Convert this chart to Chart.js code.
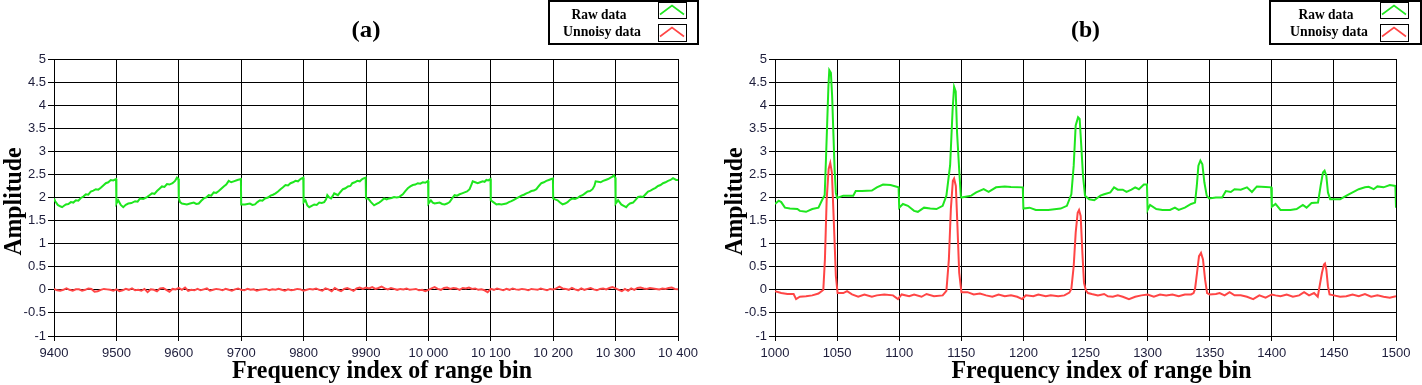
<!DOCTYPE html>
<html>
<head>
<meta charset="utf-8">
<script src="https://cdn.jsdelivr.net/npm/chart.js@4.4.1/dist/chart.umd.min.js"></script>
<style>
  html, body { margin: 0; padding: 0; background: #fff; }
  #wrap { position: relative; width: 1422px; height: 385px; }
  .panel { position: absolute; top: 0; width: 711px; height: 385px; }
  #panelA { left: 0; }
  #panelB { left: 711px; }
</style>
</head>
<body>
<div id="wrap">
  <div class="panel" id="panelA"><canvas id="chartA" width="711" height="385"></canvas></div>
  <div class="panel" id="panelB"><canvas id="chartB" width="711" height="385"></canvas></div>
</div>
<script>
/* Data */

const seriesNames = ["Raw data", "Unnoisy data"];
const panelTitles = ["(a)", "(b)"];
const xAxisTitle = "Frequency index of range bin";
const yAxisTitle = "Amplitude";

// panel (a) raw data: frequency index / amplitude, one line per 100-bin tooth
const rawAX = [
  9400, 9402, 9406, 9410, 9413, 9416, 9419, 9423, 9427, 9431, 9435, 9439, 9443, 9447, 9451, 9455, 9459, 9463, 9467, 9471, 9475, 9479, 9483, 9487, 9491, 9495, 9499.5,
  9500, 9503, 9507, 9511, 9515, 9519, 9524, 9530, 9534, 9538, 9543, 9549, 9553, 9557, 9561, 9565, 9569, 9573, 9577, 9581, 9585, 9590, 9594, 9597, 9599.5,
  9600, 9602, 9605, 9609, 9613, 9618, 9624, 9628, 9632, 9636, 9640, 9644, 9648, 9652, 9656, 9660, 9664, 9668, 9672, 9676, 9680, 9684, 9688, 9694, 9699.5,
  9700, 9706, 9710, 9714, 9718, 9722, 9726, 9730, 9734, 9738, 9743, 9747, 9751, 9755, 9759, 9763, 9767, 9771, 9775, 9779, 9783, 9787, 9791, 9795, 9799.5,
  9800, 9803, 9806, 9809, 9813, 9817, 9821, 9825, 9829, 9833, 9836, 9838, 9841, 9844, 9847, 9849, 9852, 9855, 9859, 9863, 9867, 9871, 9875, 9878, 9882, 9886, 9890, 9894, 9897, 9899.5,
  9900, 9904, 9908, 9913, 9917, 9921, 9925, 9929, 9933, 9937, 9941, 9945, 9949, 9953, 9956, 9959, 9963, 9967, 9971, 9975, 9979, 9983, 9987, 9991, 9995, 9999.5,
  10000, 10004, 10007, 10010, 10014, 10018, 10022, 10026, 10030, 10034, 10038, 10042, 10046, 10050, 10054, 10058, 10062, 10066, 10069, 10071, 10075, 10079, 10083, 10087, 10090, 10093, 10096, 10099.5,
  10100, 10104, 10109, 10113, 10117, 10121, 10125, 10129, 10133, 10137, 10141, 10145, 10149, 10153, 10157, 10161, 10165, 10169, 10173, 10177, 10181, 10185, 10189, 10193, 10197, 10199.5,
  10200, 10203, 10207, 10211, 10215, 10219, 10223, 10227, 10231, 10235, 10239, 10243, 10247, 10251, 10255, 10259, 10263, 10266, 10268, 10272, 10276, 10280, 10284, 10288, 10292, 10295, 10297, 10299.5,
  10300, 10304, 10309, 10313, 10317, 10320, 10323, 10328, 10332, 10336, 10340, 10344, 10348, 10352, 10356, 10360, 10364, 10368, 10372, 10376, 10380, 10384, 10388, 10392, 10397, 10400
];
const rawAY = [
  1.98, 1.92, 1.84, 1.81, 1.79, 1.82, 1.85, 1.86, 1.90, 1.89, 1.94, 1.93, 1.99, 2.02, 2.07, 2.06, 2.13, 2.15, 2.18, 2.17, 2.21, 2.26, 2.31, 2.33, 2.38, 2.37, 2.40,
  1.87, 1.94, 1.84, 1.79, 1.84, 1.87, 1.88, 1.92, 1.91, 1.98, 1.97, 2.01, 2.05, 2.09, 2.08, 2.14, 2.19, 2.24, 2.23, 2.29, 2.28, 2.31, 2.36, 2.43, 2.40,
  1.98, 1.90, 1.87, 1.86, 1.85, 1.87, 1.89, 1.86, 1.87, 1.93, 1.98, 2.00, 2.05, 2.04, 2.11, 2.10, 2.14, 2.19, 2.24, 2.28, 2.36, 2.33, 2.35, 2.38, 2.40,
  1.85, 1.85, 1.86, 1.87, 1.84, 1.85, 1.90, 1.94, 1.93, 1.98, 2.00, 2.04, 2.06, 2.09, 2.13, 2.18, 2.22, 2.27, 2.26, 2.31, 2.33, 2.36, 2.35, 2.40, 2.43,
  1.90, 1.94, 1.83, 1.79, 1.82, 1.85, 1.84, 1.89, 1.88, 1.90, 1.96, 2.05, 2.00, 1.98, 2.04, 2.09, 2.07, 2.05, 2.12, 2.18, 2.20, 2.24, 2.25, 2.31, 2.33, 2.36, 2.35, 2.40, 2.42, 2.43,
  1.98, 1.97, 1.90, 1.83, 1.86, 1.89, 1.93, 1.98, 1.96, 1.98, 1.99, 2.01, 2.00, 2.01, 2.04, 2.07, 2.14, 2.20, 2.24, 2.27, 2.28, 2.31, 2.30, 2.33, 2.32, 2.36,
  1.87, 1.94, 1.89, 1.87, 1.88, 1.89, 1.86, 1.85, 1.87, 1.90, 1.98, 2.05, 2.04, 2.07, 2.09, 2.11, 2.13, 2.18, 2.28, 2.35, 2.33, 2.31, 2.33, 2.35, 2.34, 2.38, 2.37, 2.40,
  1.94, 1.90, 1.85, 1.86, 1.85, 1.86, 1.87, 1.90, 1.92, 1.95, 1.98, 2.01, 2.04, 2.06, 2.09, 2.11, 2.14, 2.15, 2.18, 2.25, 2.31, 2.33, 2.36, 2.38, 2.40, 2.41,
  1.98, 1.96, 1.94, 1.89, 1.85, 1.87, 1.90, 1.95, 1.98, 1.97, 1.99, 2.03, 2.05, 2.09, 2.13, 2.14, 2.18, 2.25, 2.35, 2.34, 2.33, 2.36, 2.38, 2.40, 2.43, 2.45, 2.48, 2.43,
  1.87, 1.94, 1.85, 1.82, 1.79, 1.84, 1.87, 1.89, 1.95, 2.01, 2.02, 2.01, 2.07, 2.13, 2.15, 2.18, 2.21, 2.25, 2.27, 2.31, 2.33, 2.36, 2.38, 2.42, 2.38, 2.38
];

// panel (a) unnoisy data, one value every 5 bins from 9400
const cleanAStart = 9400;
const cleanAStep = 5;
const cleanAY = [
  0.02, -0.01, -0.02, 0.00, 0.03, 0.00, -0.02, 0.01, 0.01, -0.02, 0.00, 0.03, 0.02, -0.04, -0.03, 0.00, 0.02, 0.01, 0.00, -0.02,
  0.01, -0.03, -0.01, 0.02, 0.00, 0.03, -0.01, 0.00, -0.02, 0.02, -0.05, 0.01, 0.00, -0.03, 0.03, 0.04, 0.00, -0.04, 0.02, 0.01,
  0.04, 0.00, 0.05, -0.02, 0.00, -0.01, 0.02, -0.01, 0.01, 0.03, -0.02, 0.00, 0.02, 0.01, -0.01, 0.02, 0.00, -0.02, 0.01, 0.03,
  0.00, -0.01, 0.02, 0.00, 0.01, -0.02, 0.00, 0.01, 0.02, -0.01, 0.01, 0.00, 0.02, 0.00, -0.02, 0.01, -0.01, 0.00, 0.02, 0.01,
  -0.02, 0.00, 0.02, 0.01, 0.03, 0.00, -0.02, 0.03, 0.01, -0.03, 0.04, 0.00, -0.03, 0.02, 0.04, 0.01, -0.02, 0.03, 0.05, 0.02,
  0.05, 0.03, 0.06, 0.02, 0.04, 0.07, 0.03, 0.01, 0.04, 0.02, 0.00, 0.02, 0.01, 0.03, 0.00, 0.01, 0.02, -0.01, 0.00, -0.03,
  0.00, 0.03, 0.06, 0.02, 0.00, 0.04, 0.05, 0.02, 0.04, 0.03, 0.00, 0.04, 0.03, 0.05, 0.02, 0.03, 0.00, 0.01, -0.01, -0.05,
  0.02, 0.00, 0.03, 0.01, -0.01, 0.02, 0.00, 0.03, 0.01, 0.00, 0.02, 0.01, -0.01, 0.02, 0.01, 0.00, 0.03, 0.01, -0.01, 0.02,
  0.01, 0.03, 0.07, 0.03, 0.02, 0.00, 0.04, 0.01, -0.01, 0.03, 0.00, 0.02, 0.04, 0.01, -0.01, 0.02, 0.03, 0.01, 0.04, 0.06,
  0.03, 0.00, -0.03, 0.02, -0.02, 0.03, 0.00, 0.04, 0.05, 0.03, 0.02, 0.04, 0.03, 0.02, 0.01, 0.03, 0.02, 0.04, 0.05, 0.02,
  0.01
];

// panel (b) raw data
const rawBX = [
  1000, 1003, 1005, 1008, 1012, 1018, 1020, 1025, 1030, 1035, 1038, 1040, 1041, 1042, 1043, 1043.7, 1045, 1046, 1047, 1048, 1049,
  1050, 1055, 1063, 1065, 1070, 1078, 1082, 1087, 1093, 1099.5,
  1100, 1103, 1107, 1112, 1115, 1120, 1125, 1130, 1135, 1138, 1141, 1143, 1144.2, 1145.5, 1146.6, 1148.3, 1149.6,
  1150, 1158, 1162, 1168, 1172, 1178, 1185, 1190, 1199.5,
  1200, 1205, 1210, 1220, 1230, 1235, 1238.6, 1240.5, 1242.1, 1244, 1245.3, 1246.6, 1248, 1249.6,
  1250, 1253, 1257, 1262, 1265, 1270, 1273, 1276, 1280, 1283, 1287, 1290, 1293, 1297, 1299.5,
  1300, 1302, 1307, 1312, 1318, 1322, 1325, 1330, 1335, 1338.2, 1339.6, 1340.9, 1342.5, 1344.1, 1345.7, 1347.6, 1349.5,
  1355, 1360, 1363, 1367, 1370, 1375, 1380, 1384, 1388, 1395, 1399.5,
  1400, 1403, 1407, 1415, 1420, 1425, 1428, 1432, 1437.2, 1439.3, 1441.2, 1442.5, 1443.9, 1445.2, 1447,
  1450, 1455, 1458, 1462, 1467, 1470, 1475, 1478, 1482, 1485, 1490, 1495, 1499.5, 1500
];
const rawBY = [
  1.86, 1.93, 1.90, 1.78, 1.76, 1.75, 1.71, 1.69, 1.75, 1.78, 1.95, 2.05, 2.80, 3.60, 4.40, 4.76, 4.70, 4.20, 3.40, 2.60, 2.10,
  1.99, 2.04, 2.04, 2.14, 2.14, 2.15, 2.22, 2.28, 2.27, 2.22,
  1.78, 1.86, 1.82, 1.71, 1.69, 1.78, 1.76, 1.75, 1.82, 2.04, 2.70, 3.90, 4.40, 4.30, 3.40, 2.60, 2.04,
  2.00, 2.04, 2.11, 2.18, 2.12, 2.22, 2.24, 2.23, 2.22,
  1.76, 1.78, 1.73, 1.73, 1.76, 1.82, 2.07, 2.69, 3.56, 3.74, 3.70, 3.12, 2.47, 2.04,
  2.04, 1.96, 1.94, 2.04, 2.07, 2.11, 2.22, 2.17, 2.17, 2.12, 2.17, 2.22, 2.18, 2.28, 2.28,
  1.73, 1.84, 1.75, 1.73, 1.73, 1.78, 1.73, 1.78, 1.86, 1.89, 2.25, 2.69, 2.80, 2.72, 2.33, 2.04, 1.98,
  2.00, 2.00, 2.14, 2.12, 2.18, 2.17, 2.22, 2.12, 2.24, 2.23, 2.22,
  1.80, 1.86, 1.73, 1.73, 1.75, 1.84, 1.78, 1.88, 1.89, 2.25, 2.54, 2.58, 2.47, 2.11, 1.96,
  1.96, 1.96, 2.01, 2.07, 2.14, 2.18, 2.22, 2.23, 2.18, 2.24, 2.22, 2.27, 2.25, 1.78
];

// panel (b) unnoisy data
const cleanBX = [
  1000, 1005, 1010, 1015, 1017, 1020, 1025, 1030, 1035, 1038, 1038.9, 1040.2, 1041.6, 1043.2, 1044.5, 1045.8, 1047.5, 1049, 1050.4,
  1055, 1058, 1062, 1067, 1072, 1078, 1082, 1088, 1095, 1099, 1102, 1108, 1112, 1118, 1122, 1128, 1135,
  1138, 1140, 1141.6, 1143.2, 1144.2, 1145.6, 1146.9, 1148.3, 1150.1,
  1155, 1160, 1165, 1170, 1175, 1180, 1185, 1190, 1195, 1199, 1202, 1208, 1212, 1218, 1222, 1228, 1233, 1237,
  1238.6, 1240.5, 1242.1, 1243.7, 1244.8, 1246.1, 1247.5, 1248.8, 1250.3,
  1252, 1255, 1260, 1265, 1268, 1272, 1276, 1280, 1285, 1290, 1295, 1300, 1305, 1310, 1315, 1320, 1325, 1330, 1335, 1337,
  1338.2, 1339.8, 1341.4, 1343, 1344.6, 1346.3, 1347.9,
  1350, 1355, 1358, 1362, 1366, 1370, 1375, 1380, 1385, 1390, 1395, 1400, 1403, 1407, 1412, 1417, 1422, 1426, 1430, 1434, 1437,
  1438.5, 1440.4, 1442, 1442.8, 1443.9, 1445.2, 1446.5,
  1450, 1455, 1460, 1465, 1470, 1475, 1480, 1485, 1490, 1495, 1500
];
const cleanBY = [
  -0.03, -0.07, -0.09, -0.09, -0.20, -0.15, -0.14, -0.12, -0.08, -0.02, 0.00, 0.66, 1.96, 2.62, 2.75, 2.54, 1.38, 0.30, -0.07,
  -0.07, -0.03, -0.10, -0.15, -0.10, -0.15, -0.12, -0.10, -0.12, -0.20, -0.10, -0.14, -0.10, -0.15, -0.09, -0.14, -0.12,
  -0.02, 0.66, 1.75, 2.36, 2.41, 2.25, 1.38, 0.37, -0.05,
  -0.05, -0.10, -0.08, -0.12, -0.15, -0.10, -0.14, -0.12, -0.15, -0.20, -0.12, -0.14, -0.10, -0.14, -0.12, -0.14, -0.12, -0.06,
  0.02, 0.51, 1.24, 1.67, 1.73, 1.60, 0.80, 0.15, -0.01,
  -0.07, -0.09, -0.12, -0.09, -0.14, -0.15, -0.12, -0.15, -0.20, -0.15, -0.12, -0.10, -0.15, -0.10, -0.12, -0.10, -0.14, -0.10, -0.10, -0.07,
  0.02, 0.37, 0.73, 0.80, 0.66, 0.22, -0.07,
  -0.10, -0.09, -0.07, -0.12, -0.05, -0.12, -0.12, -0.15, -0.20, -0.12, -0.17, -0.10, -0.12, -0.14, -0.10, -0.15, -0.12, -0.05, -0.12, -0.07, -0.15,
  0.08, 0.37, 0.55, 0.57, 0.44, 0.08, -0.10,
  -0.12, -0.15, -0.14, -0.10, -0.14, -0.09, -0.15, -0.12, -0.15, -0.17, -0.14
];

/* Styling */

const rawColor = "#1ee61e";
const cleanColor = "#ff4545";
const tickColor = "#1c1c3a";
const serif = "'Liberation Serif', 'Times New Roman', serif";

function toPoints(xs, ys) {
  return ys.map((y, i) => ({ x: xs[i], y: y }));
}

const cleanAX = cleanAY.map((_, i) => cleanAStart + i * cleanAStep);

// draws text squeezed/stretched to a target width (the original uses a narrow bold serif)
function fitText(ctx, text, x, y, width, font, rotate) {
  ctx.save();
  ctx.font = font;
  const w = ctx.measureText(text).width;
  ctx.translate(x, y);
  if (rotate) ctx.rotate(-Math.PI / 2);
  ctx.scale(width / w, 1);
  ctx.textAlign = "center";
  ctx.textBaseline = "alphabetic";
  ctx.fillStyle = "#000";
  ctx.fillText(text, 0, 0);
  ctx.restore();
}

function drawCaret(ctx, x, y, color) {
  ctx.save();
  ctx.strokeStyle = color;
  ctx.lineWidth = 1.6;
  ctx.beginPath();
  ctx.moveTo(x + 2, y + 12);
  ctx.lineTo(x + 14, y + 3);
  ctx.lineTo(x + 26, y + 12);
  ctx.stroke();
  ctx.restore();
}

// titles, axis names and the boxed legend
const decorPlugin = {
  id: "decor",
  afterDraw(chart, args, opts) {
    const ctx = chart.ctx;
    const area = chart.chartArea;
    const midX = (area.left + area.right) / 2;

    fitText(ctx, opts.title, midX, 36.5, 29, "bold 23px " + serif, false);
    fitText(ctx, xAxisTitle, midX + 16, 378, 300, "bold 25px " + serif, false);
    fitText(ctx, yAxisTitle, area.left - 33, (area.top + area.bottom) / 2 + 4, 108, "bold 25px " + serif, true);

    const lx = opts.legendLeft;
    const lw = opts.legendWidth;
    ctx.save();
    ctx.strokeStyle = "#000";
    ctx.lineWidth = 2;
    ctx.strokeRect(lx + 1, 1, lw - 2, 43);
    ctx.lineWidth = 1;
    ctx.strokeRect(opts.iconLeft + 0.5, 2.5, 28, 16);
    ctx.strokeRect(opts.iconLeft + 0.5, 24.5, 28, 17);
    ctx.restore();

    fitText(ctx, seriesNames[0], opts.textCenter - 3, 18.5, 55, "bold 15px " + serif, false);
    fitText(ctx, seriesNames[1], opts.textCenter, 36, 78, "bold 15px " + serif, false);
    drawCaret(ctx, opts.iconLeft, 2.5, rawColor);
    drawCaret(ctx, opts.iconLeft, 24.5, cleanColor);
  }
};

function groupThousands(v) {
  const s = String(v);
  return v >= 10000 ? s.slice(0, s.length - 3) + " " + s.slice(s.length - 3) : s;
}

function makeChart(canvas, cfg) {
  return new Chart(canvas, {
    type: "line",
    data: {
      datasets: [
        {
          label: seriesNames[0],
          data: cfg.raw,
          borderColor: rawColor,
          borderWidth: 2,
          pointRadius: 0,
          tension: 0
        },
        {
          label: seriesNames[1],
          data: cfg.clean,
          borderColor: cleanColor,
          borderWidth: 2,
          pointRadius: 0,
          tension: 0
        }
      ]
    },
    options: {
      responsive: false,
      animation: false,
      events: [],
      layout: {
        padding: { left: 0, right: cfg.padRight, top: 59, bottom: 0 }
      },
      plugins: {
        legend: { display: false },
        tooltip: { enabled: false },
        decor: cfg.decor
      },
      scales: {
        x: {
          type: "linear",
          min: cfg.xMin,
          max: cfg.xMax,
          afterFit: scale => { scale.height = 49; },
          border: { color: "#000", width: 1 },
          grid: { color: "#000", lineWidth: 1, tickLength: 5 },
          ticks: {
            stepSize: cfg.xStep,
            autoSkip: false,
            maxRotation: 0,
            padding: 5,
            color: tickColor,
            font: { family: "'Liberation Sans', Arial, sans-serif", size: 13 },
            callback: v => groupThousands(v)
          }
        },
        y: {
          min: -1,
          max: 5,
          afterFit: scale => { scale.width = cfg.yWidth; },
          border: { color: "#000", width: 1 },
          grid: { color: "#000", lineWidth: 1, tickLength: 6 },
          ticks: {
            stepSize: 0.5,
            autoSkip: false,
            padding: 2,
            color: tickColor,
            font: { family: "'Liberation Sans', Arial, sans-serif", size: 13 },
            callback: v => String(v)
          }
        }
      }
    },
    plugins: [decorPlugin]
  });
}

makeChart(document.querySelector("#chartA"), {
  raw: toPoints(rawAX, rawAY),
  clean: toPoints(cleanAX, cleanAY),
  xMin: 9400,
  xMax: 10400,
  xStep: 100,
  yWidth: 54,
  padRight: 33,
  decor: { title: panelTitles[0], legendLeft: 548, legendWidth: 151, iconLeft: 658, textCenter: 602 }
});

makeChart(document.querySelector("#chartB"), {
  raw: toPoints(rawBX, rawBY),
  clean: toPoints(cleanBX, cleanBY),
  xMin: 1000,
  xMax: 1500,
  xStep: 50,
  yWidth: 64,
  padRight: 26,
  decor: { title: panelTitles[1], legendLeft: 558, legendWidth: 153, iconLeft: 669, textCenter: 618 }
});
</script>
</body>
</html>
